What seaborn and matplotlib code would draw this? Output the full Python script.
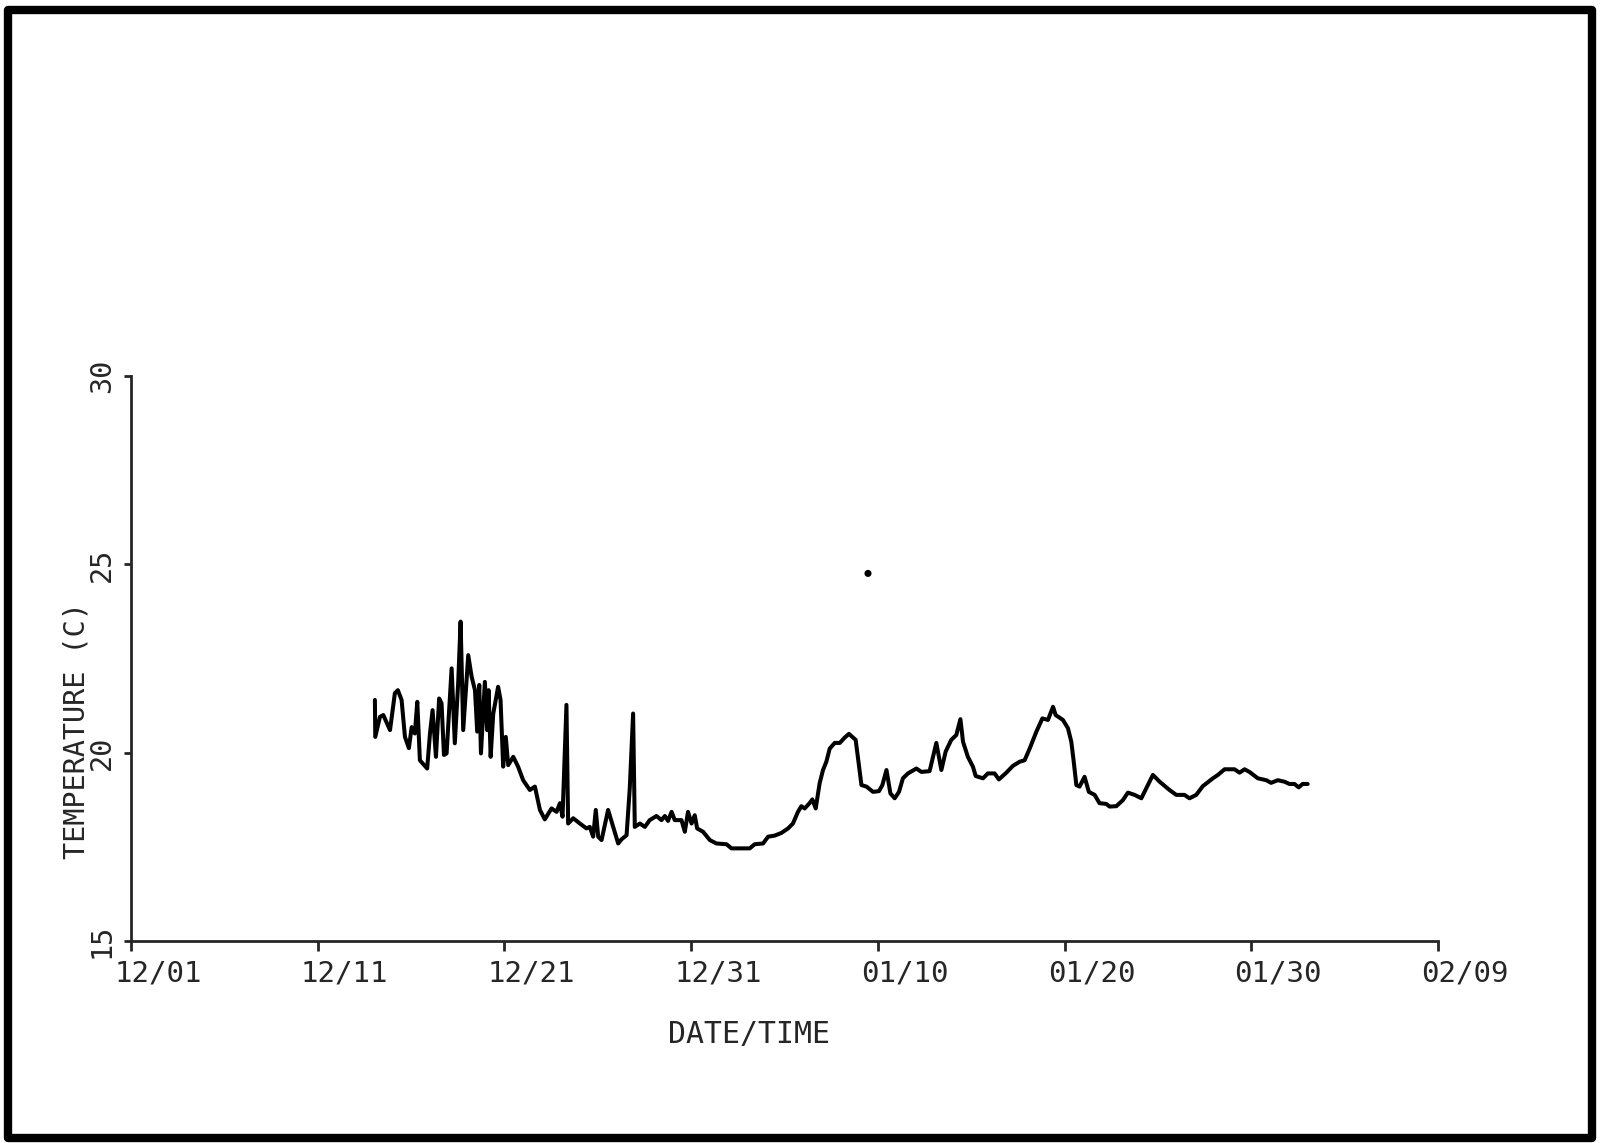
import matplotlib
matplotlib.use('Agg')
import matplotlib.pyplot as plt
import matplotlib.patches as patches
import matplotlib.transforms as mtransforms
import seaborn as sns
import pandas as pd

# days since 12/01, temperature (C)
days = [13.06, 13.08, 13.33, 13.51, 13.87, 14.13, 14.29, 14.49, 14.67, 14.88,
        15.03, 15.20, 15.33, 15.47, 15.86, 16.01, 16.15, 16.33, 16.50, 16.63,
        16.76, 16.90, 17.17, 17.34, 17.52, 17.65, 17.79, 18.06, 18.24, 18.42,
        18.54, 18.65, 18.74, 18.95, 19.07, 19.15, 19.26, 19.40, 19.66, 19.79,
        19.93, 20.07, 20.20, 20.47, 20.73, 21.00, 21.36, 21.63, 21.90, 22.16,
        22.52, 22.79, 22.97, 23.11, 23.32, 23.41, 23.68, 24.04, 24.39, 24.57,
        24.75, 24.89, 25.02, 25.20, 25.55, 25.82, 26.09, 26.27, 26.54, 26.71,
        26.89, 26.98, 27.25, 27.52, 27.78, 28.14, 28.41, 28.59, 28.76, 28.95,
        29.12, 29.48, 29.66, 29.83, 30.02, 30.19, 30.32, 30.64, 31.00, 31.35,
        31.89, 32.16, 32.60, 33.14, 33.40, 33.85, 34.12, 34.48, 34.83, 35.19,
        35.45, 35.72, 35.90, 36.08, 36.34, 36.49, 36.67, 36.88, 37.06, 37.24,
        37.42, 37.69, 37.96, 38.22, 38.45, 38.81, 38.99, 39.12, 39.39, 39.74,
        40.06, 40.24, 40.46, 40.67, 40.90, 41.13, 41.34, 41.61, 42.06, 42.33,
        42.77, 43.13, 43.40, 43.63, 43.93, 44.20, 44.42, 44.56, 44.82, 45.09,
        45.24, 45.63, 45.89, 46.25, 46.48, 46.88, 47.23, 47.59, 47.86, 48.13,
        48.49, 48.81, 49.11, 49.38, 49.52, 49.91, 50.18, 50.36, 50.48, 50.63,
        50.80, 51.07, 51.30, 51.61, 51.87, 52.23, 52.41, 52.77, 53.12, 53.39,
        53.75, 54.11, 54.46, 54.73, 55.09, 55.62, 55.98, 56.42, 56.69, 57.05,
        57.40, 57.94, 58.21, 58.57, 59.10, 59.37, 59.64, 59.90, 60.35, 60.80,
        61.06, 61.42, 61.78, 62.04, 62.31, 62.54, 62.75, 63.02]

temps = [21.40, 20.42, 20.95, 21.00, 20.60, 21.58, 21.66, 21.40, 20.42, 20.12,
         20.68, 20.51, 21.35, 19.80, 19.58, 20.51, 21.13, 19.89, 21.44, 21.31,
         19.94, 19.98, 22.24, 20.25, 21.84, 23.48, 20.60, 22.59, 22.02, 21.66,
         20.56, 21.80, 19.98, 21.88, 20.60, 21.66, 19.89, 21.04, 21.75, 21.40,
         19.63, 20.42, 19.67, 19.89, 19.63, 19.27, 19.01, 19.10, 18.48, 18.23,
         18.52, 18.43, 18.66, 18.30, 21.27, 18.12, 18.26, 18.12, 17.99, 18.03,
         17.77, 18.48, 17.77, 17.68, 18.48, 18.03, 17.59, 17.70, 17.81, 19.05,
         21.04, 18.03, 18.12, 18.03, 18.21, 18.32, 18.21, 18.32, 18.19, 18.43,
         18.21, 18.21, 17.90, 18.43, 18.12, 18.34, 17.99, 17.90, 17.68, 17.59,
         17.57, 17.46, 17.46, 17.46, 17.57, 17.59, 17.77, 17.80, 17.87, 17.99,
         18.12, 18.43, 18.58, 18.52, 18.66, 18.76, 18.52, 19.19, 19.54, 19.76,
         20.11, 20.26, 20.26, 20.40, 20.50, 20.34, 19.63, 19.14, 19.10, 18.96,
         18.98, 19.14, 19.54, 18.92, 18.79, 18.96, 19.32, 19.45, 19.58, 19.49,
         19.51, 20.26, 19.54, 20.03, 20.34, 20.47, 20.89, 20.29, 19.89, 19.63,
         19.38, 19.32, 19.45, 19.45, 19.29, 19.47, 19.65, 19.76, 19.80, 20.11,
         20.56, 20.91, 20.87, 21.22, 21.00, 20.87, 20.65, 20.29, 19.80, 19.14,
         19.10, 19.36, 18.96, 18.88, 18.66, 18.64, 18.57, 18.58, 18.74, 18.94,
         18.88, 18.79, 19.14, 19.41, 19.23, 19.01, 18.88, 18.88, 18.79, 18.88,
         19.11, 19.32, 19.41, 19.56, 19.56, 19.47, 19.56, 19.49, 19.32, 19.27,
         19.20, 19.27, 19.23, 19.17, 19.17, 19.08, 19.17, 19.17]

# lone outlier point
outlier_day = [39.47]
outlier_temp = [24.76]

tick_labels = ['12/01', '12/11', '12/21', '12/31', '01/10', '01/20', '01/30', '02/09']

df = pd.DataFrame({'day': days, 'temp': temps})

sns.set_style('ticks')
plt.rcParams['font.family'] = ['DejaVu Sans Mono']

fig = plt.figure(figsize=(16.06, 11.43), dpi=100)
ax = fig.add_axes([0.0816, 0.1767, 0.8138, 0.4943])

sns.lineplot(data=df, x='day', y='temp', color='black', lw=2.9,
             estimator=None, sort=False, ax=ax)
sns.scatterplot(x=outlier_day, y=outlier_temp, color='black', s=26,
                edgecolor='none', ax=ax)

ax.set_xlim(0, 70)
ax.set_ylim(15, 30)
ax.set_xticks(range(0, 71, 10))
ax.set_xticklabels(tick_labels)
ax.set_yticks([15, 20, 25, 30])
ax.set_yticklabels(['15', '20', '25', '30'], rotation=90, va='center')

sns.despine(ax=ax)
for s in ['left', 'bottom']:
    ax.spines[s].set_linewidth(2)
ax.tick_params(axis='x', direction='out', length=7, width=2, labelsize=21, pad=6)
ax.tick_params(axis='y', direction='out', length=5, width=2, labelsize=20.5, pad=6)

# shift the date labels a bit to the right like on the original plot
shift = mtransforms.ScaledTranslation(0.27, 0, fig.dpi_scale_trans)
for lab in ax.get_xticklabels():
    lab.set_transform(lab.get_transform() + shift)

ax.set_xlabel('DATE/TIME', fontsize=21.5)
ax.set_ylabel('TEMPERATURE (C)', fontsize=20.5)
ax.xaxis.set_label_coords(0.473, -0.14)
ax.yaxis.set_label_coords(-0.031, 0.372)

# thick frame around the whole sheet
fig.patches.append(patches.Rectangle((0.005, 0.0044), 0.9863, 0.9869,
                                     transform=fig.transFigure, fill=False,
                                     lw=6, ec='black', joinstyle='round'))

plt.savefig('out.png', dpi=100)
